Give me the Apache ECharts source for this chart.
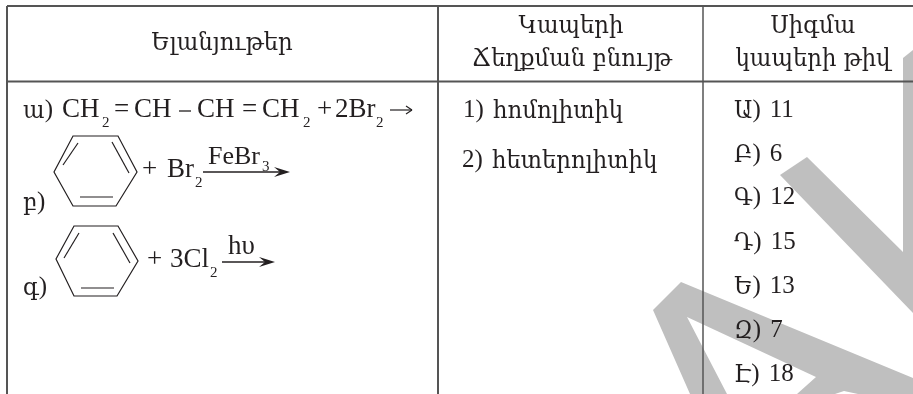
<!DOCTYPE html>
<html><head><meta charset="utf-8">
<style>html,body{margin:0;padding:0;background:#fff}#c{width:913px;height:394px}</style>
<script src="https://cdn.jsdelivr.net/npm/echarts@6/dist/echarts.min.js"></script></head>
<body><div id="c"></div>
<script>
const headers = ['Ելանյութեր', 'Կապերի', 'Ճեղքման բնույթ', 'Սիգմա', 'կապերի թիվ'];
const reactionLabels = ['ա', 'բ', 'գ'];
const bondNumbers = ['1)', '2)'];
const bondTypes = ['հոմոլիտիկ', 'հետերոլիտիկ'];
const sigmaLetters = ['Ա', 'Բ', 'Գ', 'Դ', 'Ե', 'Զ', 'Է'];
const sigmaCounts = [11, 6, 12, 15, 13, 7, 18];

const INK = '#231f20', RULE = '#555555', WM = '#bfbfbf';
const LAT = '"Liberation Serif"', ARM = '"DejaVu Serif"';
const els = [];
const mctx = document.createElement('canvas').getContext('2d');
function width(text,size,font){ mctx.font = size+'px '+font; return mctx.measureText(text).width; }
function t(text, x, base, size, align) {
  els.push({type:'text', x, y:base+0.15*size+1.5, z:5, style:{text, x:0, y:0, fill:INK, fontSize:size, fontFamily:LAT, align:align||'left', verticalAlign:'bottom'}});
  return x+width(text,size,LAT);
}
const AS=24, AX=0.95;
function a(text, x, base, align) {
  els.push({type:'text', x, y:base+0.2*AS+1, scaleX:AX, z:5, style:{text, x:0, y:0, fill:INK, fontSize:AS, fontFamily:ARM, align:align||'left', verticalAlign:'bottom'}});
  return x+width(text,AS,ARM)*AX;
}
function ln(x1,y1,x2,y2,w,c,z){ els.push({type:'line', z:z||4, shape:{x1,y1,x2,y2}, style:{stroke:c||INK, lineWidth:w||1}}); }
function poly(points, fill, z){ els.push({type:'polygon', z:z||1, shape:{points}, style:{fill}}); }
function hex(pts, inner){
  els.push({type:'polygon', z:4, shape:{points:pts}, style:{fill:'none', stroke:INK, lineWidth:1.2}});
  inner.forEach(p=>ln(p[0],p[1],p[2],p[3],1.2));
}
function arrow(x1,x2,y){
  ln(x1,y,x2-10,y,1.3);
  poly([[x2,y],[x2-16,y-5],[x2-10,y],[x2-16,y+5]], INK, 4);
}

// watermark
poly([[913,50],[903,58],[903,252],[807,157],[780,175],[913,313]], WM);
poly([[681,282],[913,378],[913,394],[858,394],[844,391],[835,394],[797,394],[816,377],[687,317],[727,394],[690,394],[653,310]], WM);

// rules
ln(7,6,913,6,2,RULE); ln(7,81.5,913,81.5,2,RULE);
ln(7,6,7,394,2,RULE); ln(438,6,438,394,2,RULE); ln(703,6,703,394,1.5,RULE);

const S=27, SUB=15, N=25;
function label(letter,x,base){ const e=a(letter,x,base); return t(')',e,base,N); }

// header
a(headers[0],222,50,'center');
a(headers[1],571,33,'center'); a(headers[2],572,66,'center');
a(headers[3],813,33,'center'); a(headers[4],813,66,'center');
// row a
label(reactionLabels[0],23,118);
[['CH',62],['=',114],['CH',134],['CH',197],['=',242],['CH',262],['+',317],['2Br',335]].forEach(p=>t(p[0],p[1],118,S));
ln(179,111,191,111,1.3);
t('2',102,127,SUB); t('2',303,127,SUB); t('2',376,127,SUB);
ln(390,110,412,110,1.2); ln(406,106,412,110,1.2); ln(406,114,412,110,1.2);
// row b
hex([[73,136],[118,136],[137,172],[116,206],[73,206],[54,172]],[[78,143,63,165],[112,142,129,173],[80,197,113,197]]);
t('+',142,178,S); t('Br',167,178,S); t('2',195,187,SUB);
t('FeBr',208,165,26); t('3',262,171,SUB); arrow(203,290,172);
label(reactionLabels[1],23,210);
// row c
hex([[74,226],[118,226],[138,261],[117,296],[74,296],[56,259]],[[79,233,64,258],[113,233,130,263],[81,288,114,288]]);
t('+',147,268,S); t('3Cl',170,268,S); t('2',210,277,SUB);
t('hυ',228,255,S); arrow(222,275,262);
label(reactionLabels[2],23,295);
// col 2
t(bondNumbers[0],463,118,N); a(bondTypes[0],493,118);
t(bondNumbers[1],462,168,N); a(bondTypes[1],492,168);
// col 3
[118,162,205,250,294,338,382].forEach((y,i)=>{
  const e=label(sigmaLetters[i],734,y);
  t(String(sigmaCounts[i]),e+9,y,N);
});

const chart = echarts.init(document.getElementById('c'),null,{renderer:'canvas'});
chart.setOption({backgroundColor:'#fff', animation:false, graphic:{elements:els}});
</script></body></html>
